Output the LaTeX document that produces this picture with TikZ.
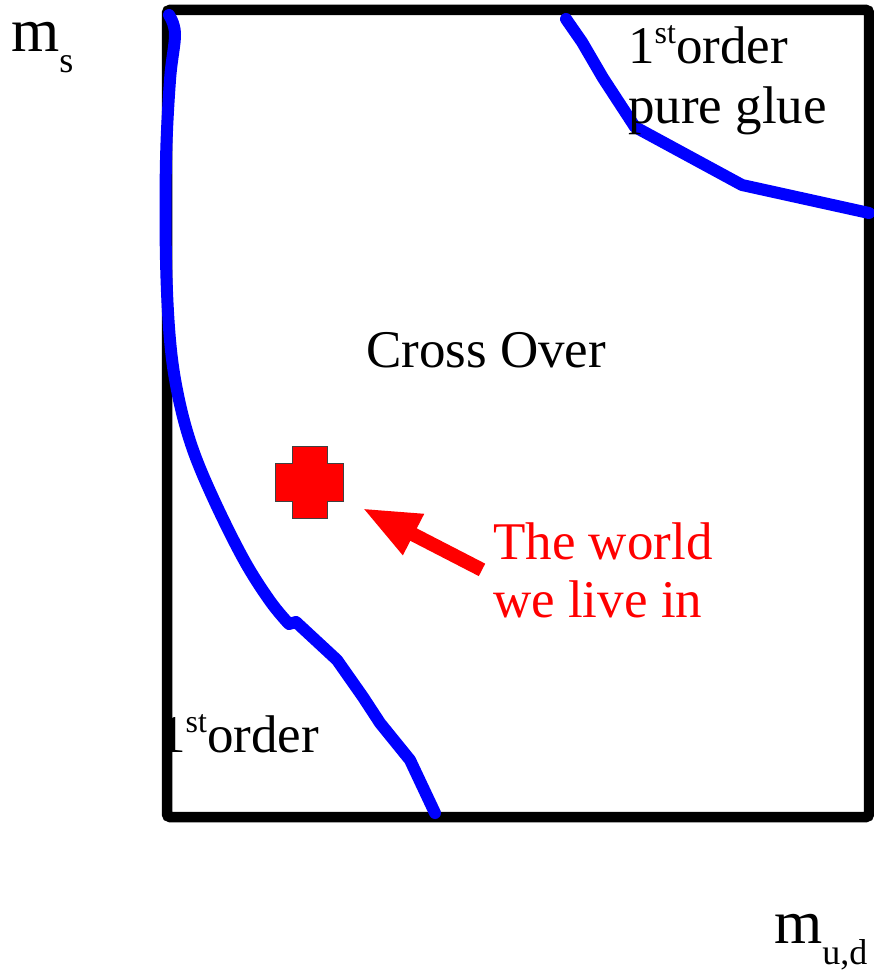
\documentclass[tikz,border=0pt]{standalone}
\usepackage{fontspec}
\setmainfont{Liberation Serif}
\usepackage{tikz}
\usetikzlibrary{arrows.meta, positioning}
\definecolor{pureblue}{RGB}{0, 0, 255}
\definecolor{purered}{RGB}{255, 0, 0}
\newcommand{\ordsup}{\raisebox{20pt}{\fontsize{32}{32}\selectfont st}}
\newcommand{\masslabel}[1]{m\raisebox{-21pt}{\fontsize{36}{36}\selectfont #1}}
\tikzset{
  % frame and phase boundaries
  frameline/.style = {line width=10.5pt, draw=black, rounded corners=3pt},
  phaseline/.style = {line width=12pt, draw=pureblue, line cap=round, line join=round},
  % arrow to the physical point
  worldarrow/.style = {-{Triangle[length=58pt, width=42pt]}, line width=14pt, draw=purered},
  % texts
  bigtxt/.style = {font=\fontsize{53}{58}\selectfont, inner sep=0pt, align=left},
  axtxt/.style  = {font=\fontsize{62}{62}\selectfont, inner sep=0pt},
}
\begin{document}
\begin{tikzpicture}[x=1pt, y=-1pt]
  \useasboundingbox (0,0) rectangle (874,974);
  % lower left label (partly under the frame)
  \node[bigtxt, anchor=base west] (lowfirst) at (159,752) {1\ordsup order};
  % frame
  \draw[frameline] (167,10) rectangle (869,817);
  % phase boundaries
  \draw[phaseline] plot[smooth, tension=0.6] coordinates {(169,15) (175,34) (170,80) (166,160)
    (166,260) (170,340) (178,395) (192,447) (214,500) (244,560) (270,601) (289,624)}
    -- (296,622) -- (337,660) -- (363,697) -- (380,723) -- (410,760) -- (435,813);
  \draw[phaseline] (566,19) -- (582,42) -- (603,78) -- (618,101) -- (635,127)
    -- (742,185) -- (869,213);
  % texts
  \node[bigtxt, anchor=base west] (glue) at (628,123) {1\ordsup order\\[2pt]pure glue};
  \node[bigtxt, anchor=base west] (cross) at (366,367) {Cross Over};
  \node[bigtxt, anchor=base west, text=purered] (world) at (493,617) {The world\\we live in};
  % the physical point
  \coordinate (star) at (309,482);
  \filldraw[fill=purered, draw=black!75, line width=0.8pt]
    (292,446) -- (327,446) -- (327,463) -- (343,463) -- (343,501) -- (327,501)
    -- (327,518) -- (292,518) -- (292,501) -- (275,501) -- (275,463) -- (292,463) -- cycle;
  \coordinate (tip) at (362,508);
  \draw[worldarrow] ([xshift=-11pt]world.west) -- (tip);
  % axis labels
  \node[axtxt, anchor=base west] (ms) at (11,52) {\masslabel{s}};
  \node[axtxt, anchor=base west] (mud) at (774,943) {\masslabel{u,d}};
\end{tikzpicture}
\end{document}
